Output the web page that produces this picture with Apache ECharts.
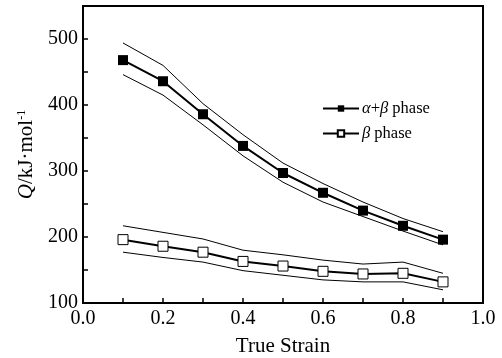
<!DOCTYPE html>
<html>
<head>
<meta charset="utf-8">
<script src="https://cdn.jsdelivr.net/npm/echarts@6/dist/echarts.min.js"></script>
<style>
  html, body { margin: 0; padding: 0; background: #fff; }
  #chart { width: 502px; height: 358px; }
</style>
</head>
<body>
<div id="chart"></div>
<script>
const strain = [0.1, 0.2, 0.3, 0.4, 0.5, 0.6, 0.7, 0.8, 0.9];

const abPhase = [468, 436, 386, 338, 297, 267, 240, 217, 196];
const abUpper = [494, 460, 402, 355, 312, 281, 253, 228, 208];
const abLower = [446, 415, 370, 323, 283, 253, 231, 209, 188];

const bPhase = [196, 186, 177, 163, 156, 148, 144, 145, 132];
const bUpper = [217, 207, 197, 180, 173, 165, 159, 162, 145];
const bLower = [177, 169, 162, 149, 142, 135, 132, 132, 120];

const pair = arr => strain.map((x, i) => [x, arr[i]]);

const font = 'Liberation Serif, Times New Roman, serif';

const chart = echarts.init(document.getElementById('chart'));

const band = (name, data) => ({
  name: name,
  type: 'line',
  data: pair(data),
  symbol: 'none',
  lineStyle: { color: '#000', width: 1 },
  silent: true,
  z: 1
});

chart.setOption({
  animation: false,
  grid: {
    left: 83, right: 19, top: 6, bottom: 55,
    outerBoundsMode: 'none', containLabel: false,
    show: true, borderColor: '#000', borderWidth: 2
  },
  legend: {
    data: ['ab', 'b'],
    left: 317, top: 95,
    orient: 'vertical',
    itemWidth: 36, itemHeight: 8, itemGap: 8,
    formatter: n => n === 'ab' ? '{i|α}+{i|β} phase' : '{i|β} phase',
    textStyle: {
      fontFamily: font, fontSize: 16.5, color: '#000', padding: [0, 0, 0, -2],
      rich: { i: { fontStyle: 'italic', fontFamily: font, fontSize: 16.5 } }
    }
  },
  xAxis: {
    type: 'value', min: 0, max: 1, interval: 0.1,
    name: 'True Strain', nameLocation: 'middle', nameGap: 33,
    nameTextStyle: { fontFamily: font, fontSize: 21, color: '#000' },
    axisLine: { lineStyle: { color: '#000', width: 2 } },
    axisTick: { inside: true, length: 5, lineStyle: { color: '#000', width: 1.5 } },
    axisLabel: {
      margin: 6,
      fontFamily: font, fontSize: 20, color: '#000',
      formatter: v => (Math.round(v * 10) % 2 === 0) ? v.toFixed(1) : ''
    },
    splitLine: { show: false }
  },
  yAxis: {
    type: 'value', min: 100, max: 550, interval: 50,
    name: '{q|Q}/kJ·mol{s|-1}', nameLocation: 'middle', nameGap: 45,
    nameTextStyle: {
      fontFamily: font, fontSize: 21, color: '#000',
      rich: {
        q: { fontStyle: 'italic', fontFamily: font, fontSize: 21 },
        s: { fontFamily: font, fontSize: 12, verticalAlign: 'top', padding: [0, 0, 10, 0] }
      }
    },
    axisLine: { show: true, lineStyle: { color: '#000', width: 2 } },
    axisTick: { show: true, inside: true, length: 5, lineStyle: { color: '#000', width: 1.5 } },
    axisLabel: {
      margin: 5, fontFamily: font, fontSize: 20, color: '#000',
      formatter: v => (v % 100 === 0 && v <= 500) ? String(v) : ''
    },
    splitLine: { show: false }
  },
  series: [
    band('abU', abUpper),
    band('abL', abLower),
    band('bU', bUpper),
    band('bL', bLower),
    {
      name: 'ab', type: 'line', data: pair(abPhase),
      symbol: 'rect', symbolSize: 10,
      lineStyle: { color: '#000', width: 2 },
      itemStyle: { color: '#000', borderColor: '#000', borderWidth: 0 },
      z: 3
    },
    {
      name: 'b', type: 'line', data: pair(bPhase),
      symbol: 'rect', symbolSize: 10,
      lineStyle: { color: '#000', width: 2 },
      itemStyle: { color: '#fff', borderColor: '#000', borderWidth: 1 },
      z: 3
    }
  ]
});
</script>
</body>
</html>
